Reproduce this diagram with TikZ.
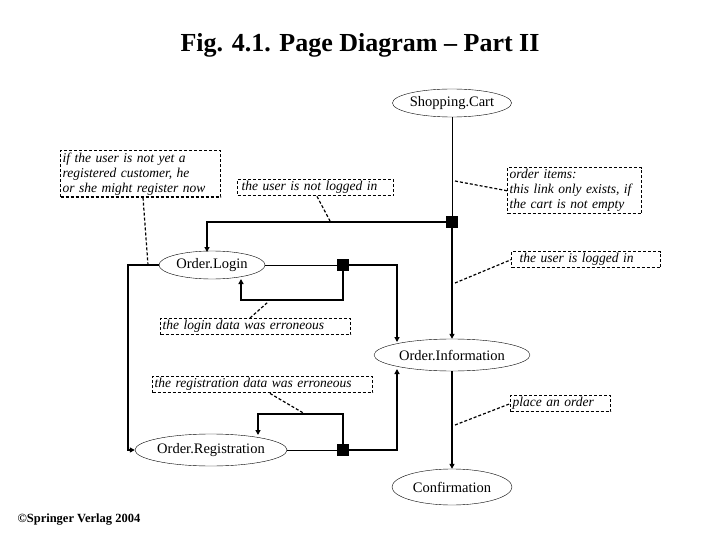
\documentclass[tikz,border=0pt]{standalone}
\usepackage{fontspec}
\setmainfont{Liberation Serif}
\usetikzlibrary{shapes.geometric,arrows.meta}
\begin{document}
\begin{tikzpicture}[x=1pt,y=-1pt,
 page/.style={draw,ellipse,inner sep=0pt,font=\fontsize{14.5}{15}\selectfont},
 note/.style={draw,dashed,line width=1.2pt,dash pattern=on 3pt off 2pt,font=\itshape\fontsize{13.5}{15}\selectfont,inner sep=2pt,align=left,anchor=north west},
 arr/.style={line width=1.3pt,-{Triangle[length=5pt,width=5pt]}},
 thin/.style={line width=0.6pt},
 cn/.style={dashed,line width=1.2pt,dash pattern=on 3pt off 2pt},
 sq/.style={fill=black,minimum size=12pt,inner sep=0pt}]
\useasboundingbox (0,0) rectangle (720,540);
\node[font=\bfseries\fontsize{26}{28}\selectfont] (title) at (360,45) {Fig. 4.1. Page Diagram -- Part II};
\node[page,minimum width=105pt,minimum height=28pt] (cart) at (452,103) {Shopping.Cart};
\node[page,minimum width=106pt,minimum height=28pt] (login) at (212,265) {Order.Login};
\node[page,minimum width=156pt,minimum height=32pt] (info) at (452,355) {Order.Information};
\node[page,minimum width=132pt,minimum height=32pt] (reg) at (211,450) {Order.Registration};
\node[page,minimum width=120pt,minimum height=36pt] (conf) at (452,487) {Confirmation};
\node[sq] (s1) at (452,222) {};
\node[sq] (s2) at (343,265) {};
\node[sq] (s3) at (343,450) {};
% connectors
\draw[thin] (cart) -- (s1);
\draw[arr] (s1.west) -| (207,252);
\draw[arr] (s1) -- (info);
\draw[thin] (login) -- (s2);
\draw[arr] (s2.east) -| (397,342);
\draw[arr] (s2.south) |- (241,300) -- (241,279);
\draw[arr] (login.west) -| (128,450) -- (reg.west);
\draw[thin] (reg) -- (s3);
\draw[arr] (s3.east) -| (397,369);
\draw[arr] (s3.north) |- (258,414) -- (258,435);
\draw[arr] (info) -- (conf);
% notes
\node[note,text width=156pt] (n1) at (60,150) {if the user is not yet a\\registered customer, he\\or she might register now};
\node[note,text width=152pt] (n2) at (237,179) {\hspace{2pt}the user is not logged in};
\node[note,text width=130pt] (n3) at (507,167) {order items:\\this link only exists, if\\the cart is not empty};
\node[note,text width=145pt] (n4) at (511,251) {\hspace{6pt}the user is logged in};
\node[note,text width=186pt] (n5) at (160,318) {the login data was erroneous};
\node[note,text width=216pt] (n6) at (152,376) {the registration data was erroneous};
\node[note,text width=96pt] (n7) at (510,395) {place an order};
\coordinate (c1) at (148,265);
\coordinate (c2) at (330,221);
\coordinate (c3) at (455,181);
\coordinate (c4) at (455,283);
\coordinate (c5) at (268,302);
\coordinate (c6) at (305,414);
\coordinate (c7) at (455,425);
\draw[cn] (n1.south -| 143,0) -- (c1);
\draw[cn] (n2.south -| 317,0) -- (c2);
\draw[cn] (c3) -- (n3.west);
\draw[cn] (c4) -- (n4.west);
\draw[cn] (n5.north -| 250,0) -- (c5);
\draw[cn] (n6.south -| 270,0) -- (c6);
\draw[cn] (c7) -- (n7.west);
\node[font=\bfseries\fontsize{12.5}{13}\selectfont,anchor=west] (copy) at (14,520) {\textcopyright Springer Verlag 2004};
\end{tikzpicture}
\end{document}
